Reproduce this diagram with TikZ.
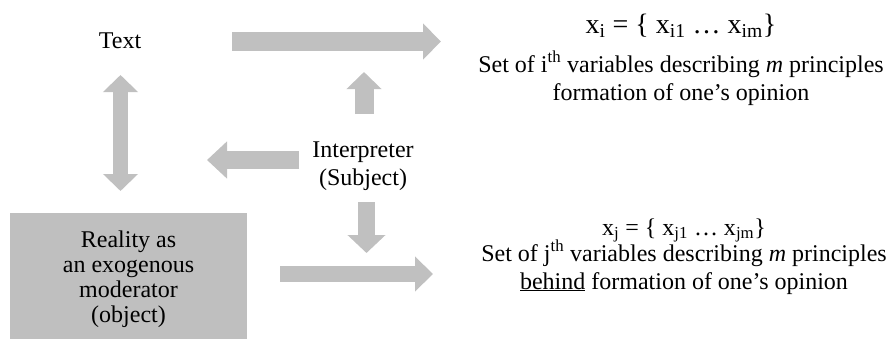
\documentclass[tikz,border=0pt]{standalone}
\usepackage{fontspec}
\setmainfont{Liberation Serif}
\usetikzlibrary{arrows.meta}
\definecolor{arrgray}{HTML}{C0C0C0}
\definecolor{boxgray}{HTML}{BFBFBF}
\tikzset{
  txt/.style={inner sep=0pt, align=center, font=\fontsize{24}{28}\selectfont},
  bigarrow/.style={arrgray, line width=#1},
}
\begin{document}
\begin{tikzpicture}[x=1pt,y=-1pt]
\useasboundingbox (0,0) rectangle (887,338);
% nodes
\node[txt, anchor=base] (text) at (120,48) {Text};
\node[txt, anchor=base] (interp) at (363,185) {Interpreter\\(Subject)};
\node[txt, fill=boxgray, minimum width=237pt, minimum height=133pt,
      font=\fontsize{24}{25}\selectfont] (reality) at (128.5,279.5)
      {Reality as\\an exogenous\\moderator\\(object)};
\node[txt, anchor=base, font=\fontsize{28}{30}\selectfont] (xi) at (681,33)
      {x\textsubscript{i} = \{ x\textsubscript{i1} … x\textsubscript{im}\}};
\node[txt, anchor=base] (seti) at (681,100)
      {Set of i\textsuperscript{th} variables describing \textit{m} principles\\formation of one’s opinion};
\node[txt, anchor=base] (xj) at (684,235)
      {x\textsubscript{j} = \{ x\textsubscript{j1} … x\textsubscript{jm}\}};
\node[txt, anchor=base] (setj) at (684,289)
      {Set of j\textsuperscript{th} variables describing \textit{m} principles\\\underline{behind} formation of one’s opinion};
% arrow end points
\coordinate (a1s) at (232,41.5); \coordinate (a1e) at (441,41.5);
\coordinate (a2s) at (120.5,75); \coordinate (a2e) at (120.5,191);
\coordinate (a3s) at (364,114); \coordinate (a3e) at (364,72);
\coordinate (a4s) at (299,160); \coordinate (a4e) at (207,160);
\coordinate (a5s) at (366.5,202); \coordinate (a5e) at (366.5,253);
\coordinate (a6s) at (280,274); \coordinate (a6e) at (433,274);
% arrows
\draw[bigarrow=19pt, -{Triangle[length=18pt,width=35pt]}] (a1s) -- (a1e);
\draw[bigarrow=15pt, {Triangle[length=17pt,width=34pt]}-{Triangle[length=17pt,width=34pt]}] (a2s) -- (a2e);
\draw[bigarrow=19pt, -{Triangle[length=17pt,width=34pt]}] (a3s) -- (a3e);
\draw[bigarrow=18pt, -{Triangle[length=20pt,width=36pt]}] (a4s) -- (a4e);
\draw[bigarrow=17pt, -{Triangle[length=18pt,width=37pt]}] (a5s) -- (a5e);
\draw[bigarrow=16pt, -{Triangle[length=18pt,width=34pt]}] (a6s) -- (a6e);
\end{tikzpicture}
\end{document}
